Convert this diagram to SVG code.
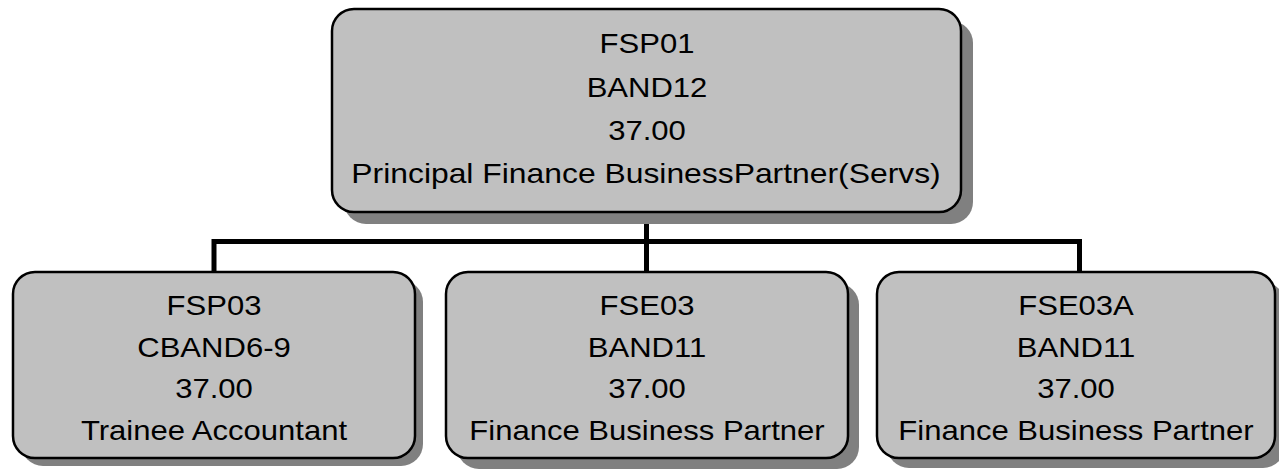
<svg xmlns="http://www.w3.org/2000/svg" width="1279" height="470" viewBox="0 0 1279 470">
<style>
.box{fill:#c0c0c0;stroke:#000;stroke-width:2.5}
.shadow{fill:#808080}
.t{font-family:"Liberation Sans",Arial,sans-serif;font-size:27px;fill:#000;text-anchor:middle}
.conn{fill:none;stroke:#000;stroke-width:5}
</style>
<rect width="1279" height="470" fill="#fff"/>
<g id="connectors">
<path class="conn" d="M646.5 212V241.5M214 241.5H1079.5M214 239V272M646.5 241.5V272M1079.5 239V272"/>
</g>
<g id="n1">
<rect class="shadow" x="344" y="21" width="629" height="203" rx="22"/>
<rect class="box" x="332" y="9" width="629" height="203" rx="22"/>
<text class="t" transform="translate(647 53) scale(1.15 1)">FSP01</text>
<text class="t" transform="translate(647 97) scale(1.15 1)">BAND12</text>
<text class="t" transform="translate(647 140) scale(1.15 1)">37.00</text>
<text class="t" transform="translate(646 183) scale(1.18 1)">Principal Finance BusinessPartner(Servs)</text>
</g>
<g id="n2">
<rect class="shadow" x="21" y="280" width="402" height="186" rx="22"/>
<rect class="box" x="13" y="272" width="402" height="186" rx="22"/>
<text class="t" transform="translate(214 315) scale(1.15 1)">FSP03</text>
<text class="t" transform="translate(214 357) scale(1.15 1)">CBAND6-9</text>
<text class="t" transform="translate(214 398) scale(1.15 1)">37.00</text>
<text class="t" transform="translate(214 440) scale(1.15 1)">Trainee Accountant</text>
</g>
<g id="n3">
<rect class="shadow" x="457" y="283" width="402" height="186" rx="22"/>
<rect class="box" x="446" y="272" width="402" height="186" rx="22"/>
<text class="t" transform="translate(647 315) scale(1.15 1)">FSE03</text>
<text class="t" transform="translate(647 357) scale(1.15 1)">BAND11</text>
<text class="t" transform="translate(647 398) scale(1.15 1)">37.00</text>
<text class="t" transform="translate(647 440) scale(1.15 1)">Finance Business Partner</text>
</g>
<g id="n4">
<rect class="shadow" x="887" y="282" width="398" height="186" rx="22"/>
<rect class="box" x="877" y="272" width="398" height="186" rx="22"/>
<text class="t" transform="translate(1076 315) scale(1.15 1)">FSE03A</text>
<text class="t" transform="translate(1076 357) scale(1.15 1)">BAND11</text>
<text class="t" transform="translate(1076 398) scale(1.15 1)">37.00</text>
<text class="t" transform="translate(1076 440) scale(1.15 1)">Finance Business Partner</text>
</g>
</svg>
